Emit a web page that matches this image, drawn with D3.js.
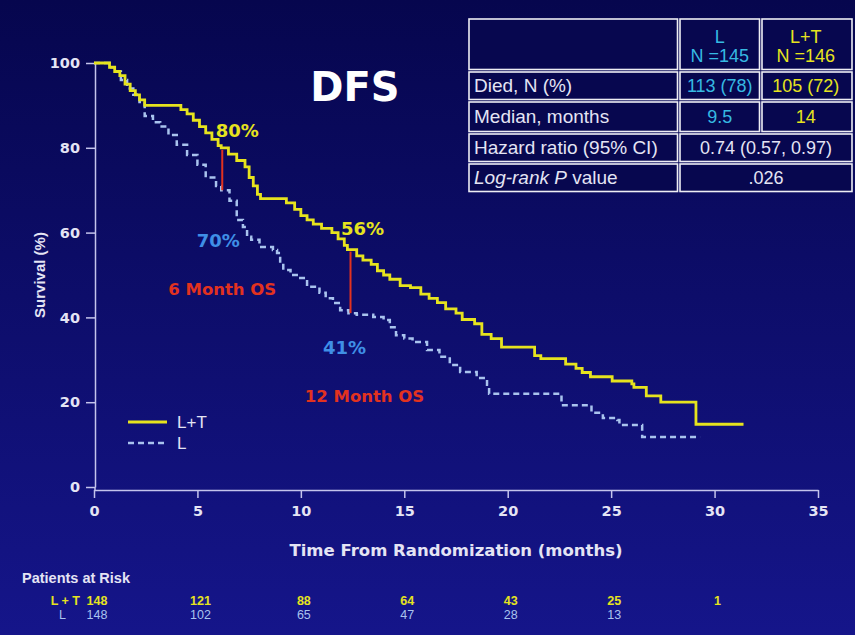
<!DOCTYPE html>
<html>
<head>
<meta charset="utf-8">
<script src="https://cdn.jsdelivr.net/npm/d3@7"></script>
<style>
  html, body { margin: 0; padding: 0; background: #0a0a58; }
  svg { display: block; }
</style>
</head>
<body>
<svg id="chart" width="855" height="635"></svg>
<script>
// Kaplan–Meier steps, [month, survival %]: the level holds from that month onward
const stepsLT = [
  [0,100],[0.75,99],[1.0,98],[1.25,97],[1.5,95],[1.75,93.5],[2.0,92.5],[2.2,91.3],[2.45,90],
  [4.2,89],[4.5,88],[4.8,86.5],[5.1,85],[5.4,83.5],[5.7,82],[6.0,80.5],[6.15,80],
  [6.5,78.5],[6.9,77],[7.3,75.5],[7.5,73],[7.7,71],[7.9,69],[8.05,68],
  [9.3,67],[9.7,65.5],[10.0,64],[10.3,63],[10.6,62],[11.0,61],[11.5,60],[11.8,58.5],[12.1,57],[12.25,56],
  [12.7,54.5],[13.0,53.5],[13.4,52.5],[13.7,51],[14.0,50],[14.3,49],[14.8,47.5],[15.3,47],[15.8,45.5],
  [16.2,44.5],[16.6,43.5],[17.0,42],[17.5,41],[17.8,39.5],[18.4,38.5],[18.75,36],[19.2,35],[19.7,33],
  [21.3,31],[21.6,30.3],[22.8,29],[23.3,28],[23.6,27],[24.0,26],[25.05,25],[26.0,24.3],[26.1,23.5],
  [26.7,21.5],[27.4,20],[29.1,14.8],[31.4,14.8]
];
const stepsL = [
  [0,100],[0.75,99],[1.0,98],[1.3,96],[1.6,94],[1.9,92.5],[2.2,90.8],[2.45,87.5],[2.85,86],[3.2,85],
  [3.6,83],[4.0,80.7],[4.5,78.3],[5.0,76],[5.4,73],[5.9,71],[6.15,70],[6.55,67.5],[6.9,63],[7.2,61.3],
  [7.4,59],[7.6,58.3],[8.0,56.6],[8.65,55.9],[8.85,55.2],[9.0,52.8],[9.15,51.2],[9.5,50],[9.8,49.3],
  [10.3,47.2],[10.9,45.8],[11.2,44.5],[11.55,43.4],[11.9,41.7],[12.3,41],[12.7,40.6],[13.5,40.1],
  [14.0,39.4],[14.3,37.7],[14.6,35.8],[15.0,35],[15.4,34.2],[16.1,32.3],[16.7,30.7],[17.2,28.8],
  [17.7,27.1],[18.5,25.7],[19.0,24.1],[19.1,22],[22.6,19.3],[24.05,17.5],[24.6,16.3],[25.3,15.8],
  [25.4,14.6],[26.5,11.8],[29.3,11.8]
];

// Axis ticks
const xTicks = [0, 5, 10, 15, 20, 25, 30, 35];
const yTicks = [0, 20, 40, 60, 80, 100];

// Landmark survival comparisons
const landmarkMonths = [6.2, 12.4];
const landmarkLT = [80, 56];
const landmarkL = [70, 41];
const landmarkTitles = ["6 Month OS", "12 Month OS"];

// Patients at risk
const riskMonths = [0, 5, 10, 15, 20, 25, 30];
const riskLT = [148, 121, 88, 64, 43, 25, 1];
const riskL = [148, 102, 65, 47, 28, 13];

// Summary table
const groupNames = ["L", "L+T"];
const groupN = [145, 146];
const rowLabels = ["Died, N (%)", "Median, months", "Hazard ratio (95% CI)", "Log-rank P value"];
const diedValues = ["113 (78)", "105 (72)"];
const medianValues = ["9.5", "14"];
const hazardText = "0.74 (0.57, 0.97)";
const pValueText = ".026";

const YELLOW = "#e6e31e";
const BLUE_LINE = "#a9c3ee";
const BLUE_TEXT = "#3f8fe6";
const CYAN = "#36b9e2";
const RED = "#e2321f";
const AXIS = "#c4c4ec";
const TEXT = "#e4e4f4";
const BOLD = "'DejaVu Sans', sans-serif";
const SANS = "'Liberation Sans', Arial, sans-serif";

const svg = d3.select("#chart");

// background
const defs = svg.append("defs");
const grad = defs.append("linearGradient").attr("id", "bg").attr("x1", 0).attr("y1", 0).attr("x2", 0).attr("y2", 1);
grad.append("stop").attr("offset", "0%").attr("stop-color", "#06064e");
grad.append("stop").attr("offset", "100%").attr("stop-color", "#15158a");
svg.append("rect").attr("width", 855).attr("height", 635).attr("fill", "url(#bg)");

const x = d3.scaleLinear().domain([0, 35]).range([94, 818]);
const y = d3.scaleLinear().domain([0, 100]).range([487, 63]);
const xAxisY = 490;

// axes
const xAxis = svg.append("g").attr("transform", `translate(0,${xAxisY})`)
  .call(d3.axisBottom(x).tickValues(xTicks).tickSize(8).tickSizeOuter(0).tickPadding(8));
const yAxis = svg.append("g").attr("transform", `translate(${x(0) + 1},0)`)
  .call(d3.axisLeft(y).tickValues(yTicks).tickSize(9).tickSizeOuter(0).tickPadding(6));
[xAxis, yAxis].forEach(g => {
  g.selectAll("path, line").attr("stroke", AXIS).attr("stroke-width", 1.5);
  g.selectAll("text").attr("fill", TEXT).attr("font-family", BOLD).attr("font-weight", "bold").attr("font-size", 14.5);
});
// y axis runs down to meet the x axis
svg.append("line").attr("x1", x(0) + 1).attr("x2", x(0) + 1).attr("y1", y(0)).attr("y2", xAxisY)
  .attr("stroke", AXIS).attr("stroke-width", 1.5);

svg.append("text").attr("x", (x(0) + x(35)) / 2).attr("y", 556).attr("text-anchor", "middle")
  .attr("fill", TEXT).attr("font-family", BOLD).attr("font-weight", "bold").attr("font-size", 16.5)
  .text("Time From Randomization (months)");
svg.append("text").attr("transform", `translate(45,${(y(0) + y(100)) / 2}) rotate(-90)`)
  .attr("text-anchor", "middle").attr("fill", TEXT).attr("font-family", SANS).attr("font-weight", "bold")
  .attr("font-size", 15).text("Survival (%)");

// title
svg.append("text").attr("x", 355).attr("y", 101).attr("text-anchor", "middle")
  .attr("fill", "#ffffff").attr("font-family", BOLD).attr("font-weight", "bold").attr("font-size", 40)
  .text("DFS");

// survival curves
const line = d3.line().x(d => x(d[0])).y(d => y(d[1])).curve(d3.curveStepAfter);
svg.append("path").datum(stepsL).attr("d", line).attr("fill", "none")
  .attr("stroke", BLUE_LINE).attr("stroke-width", 2.5).attr("stroke-dasharray", "6,4");
svg.append("path").datum(stepsLT).attr("d", line).attr("fill", "none")
  .attr("stroke", YELLOW).attr("stroke-width", 2.8);

// landmark markers and labels
landmarkMonths.forEach((m, i) => {
  svg.append("line").attr("x1", x(m)).attr("x2", x(m)).attr("y1", y(landmarkLT[i]) + 2).attr("y2", y(landmarkL[i]))
    .attr("stroke", RED).attr("stroke-width", 2);
});
const pct = (tx, ty, color, txt, size) => svg.append("text").attr("x", tx).attr("y", ty)
  .attr("text-anchor", "middle").attr("fill", color).attr("font-family", BOLD).attr("font-weight", "bold")
  .attr("font-size", size).text(txt);
pct(x(landmarkMonths[0]) + 15, y(landmarkLT[0]) - 11, YELLOW, landmarkLT[0] + "%", 18);
pct(x(landmarkMonths[0]) - 4, y(landmarkL[0]) + 57, BLUE_TEXT, landmarkL[0] + "%", 18);
pct(x(landmarkMonths[0]), y(landmarkL[0]) + 105, RED, landmarkTitles[0], 16.5);
pct(x(landmarkMonths[1]) + 12, y(landmarkLT[1]) - 15, YELLOW, landmarkLT[1] + "%", 18);
pct(x(landmarkMonths[1]) - 6, y(landmarkL[1]) + 41, BLUE_TEXT, landmarkL[1] + "%", 18);
pct(x(landmarkMonths[1]) + 14, y(landmarkL[1]) + 89, RED, landmarkTitles[1], 16.5);

// legend
const legend = svg.append("g").attr("transform", "translate(128,422)");
legend.append("line").attr("x1", 0).attr("x2", 39).attr("stroke", YELLOW).attr("stroke-width", 2.8);
legend.append("line").attr("x1", 0).attr("x2", 39).attr("y1", 21).attr("y2", 21)
  .attr("stroke", BLUE_LINE).attr("stroke-width", 2.5).attr("stroke-dasharray", "6,4");
legend.append("text").attr("x", 49).attr("y", 6).attr("fill", TEXT).attr("font-family", SANS).attr("font-size", 17).text(groupNames[1]);
legend.append("text").attr("x", 49).attr("y", 27).attr("fill", TEXT).attr("font-family", SANS).attr("font-size", 17).text(groupNames[0]);

// summary table
const colX = [469, 680, 762, 852];
const rowY = [19, 72, 102, 134, 164, 194];
const gap = 2.5;
const table = svg.append("g");
const cell = (x0, x1, y0, y1) => table.append("rect")
  .attr("x", x0).attr("y", y0).attr("width", x1 - x0 - gap).attr("height", y1 - y0 - gap)
  .attr("fill", "#07074f").attr("stroke", "#eeeef4").attr("stroke-width", 1.6);
for (let r = 0; r < 5; r++) {
  cell(colX[0], colX[1], rowY[r], rowY[r + 1]);
  if (r < 3) { cell(colX[1], colX[2], rowY[r], rowY[r + 1]); cell(colX[2], colX[3] + gap, rowY[r], rowY[r + 1]); }
  else cell(colX[1], colX[3] + gap, rowY[r], rowY[r + 1]);
}
const tText = (tx, ty, txt, color, anchor) => table.append("text").attr("x", tx).attr("y", ty)
  .attr("text-anchor", anchor || "middle").attr("fill", color).attr("font-family", SANS).attr("font-size", 18).text(txt);
const mid = c => (colX[c] + colX[c + 1] - gap) / 2;
const base = r => (rowY[r] + rowY[r + 1] - gap) / 2 + 6.5;
const groupColors = [CYAN, YELLOW];
[0, 1].forEach(g => {
  tText(mid(g + 1), 43, groupNames[g], groupColors[g]);
  tText(mid(g + 1), 62, "N =" + groupN[g], groupColors[g]);
  tText(mid(g + 1), base(1), diedValues[g], groupColors[g]);
  tText(mid(g + 1), base(2), medianValues[g], groupColors[g]);
});
const spanMid = (colX[1] + colX[3]) / 2;
tText(spanMid, base(3), hazardText, TEXT);
tText(spanMid, base(4), pValueText, TEXT);
rowLabels.forEach((lab, i) => {
  const t = tText(colX[0] + 5, base(i + 1), "", TEXT, "start").attr("font-size", 19);
  if (lab.startsWith("Log-rank P")) {
    t.append("tspan").attr("font-style", "italic").text("Log-rank P");
    t.append("tspan").text(lab.slice("Log-rank P".length));
  } else t.text(lab);
});

// patients at risk
const RISK_SIZE = 12.5;
svg.append("text").attr("x", 22).attr("y", 583).attr("fill", TEXT).attr("font-family", SANS)
  .attr("font-weight", "bold").attr("font-size", 14.5).text("Patients at Risk");
svg.append("text").attr("x", 80).attr("y", 605).attr("text-anchor", "end").attr("fill", YELLOW)
  .attr("font-family", SANS).attr("font-weight", "bold").attr("font-size", RISK_SIZE).text("L + T");
svg.append("text").attr("x", 66).attr("y", 619).attr("text-anchor", "end").attr("fill", BLUE_LINE)
  .attr("font-family", SANS).attr("font-size", RISK_SIZE).text("L");
riskLT.forEach((v, i) => svg.append("text").attr("x", x(riskMonths[i]) + 3).attr("y", 605)
  .attr("text-anchor", "middle").attr("fill", YELLOW).attr("font-family", SANS).attr("font-weight", "bold")
  .attr("font-size", RISK_SIZE).text(v));
riskL.forEach((v, i) => svg.append("text").attr("x", x(riskMonths[i]) + 3).attr("y", 619)
  .attr("text-anchor", "middle").attr("fill", BLUE_LINE).attr("font-family", SANS)
  .attr("font-size", RISK_SIZE).text(v));
</script>
</body>
</html>
